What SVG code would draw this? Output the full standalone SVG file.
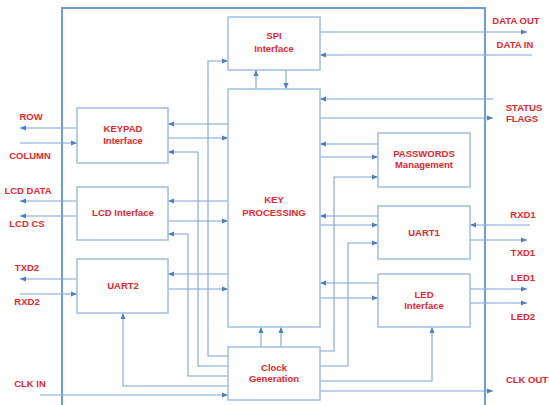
<svg xmlns="http://www.w3.org/2000/svg" width="549" height="405" viewBox="0 0 549 405">
<style>
.box{fill:#ffffff;stroke:#9fbfe5;stroke-width:1.5}
.frame{fill:none;stroke:#6a9fd8;stroke-width:2}
.ln{fill:none;stroke:#7ca4d6;stroke-width:1.1;marker-end:url(#ah)}
.t{font-family:"Liberation Sans",Arial,sans-serif;font-weight:bold;font-size:9.5px;fill:#e8262d;text-anchor:middle}
</style>
<defs>
<marker id="ah" markerUnits="userSpaceOnUse" markerWidth="7" markerHeight="6" refX="6" refY="3" orient="auto">
<path d="M0,0.5 L6,3 L0,5.5 Z" fill="#4f7fbf"/>
</marker>
</defs>
<rect width="549" height="405" fill="#ffffff"/>
<path class="frame" d="M62,410 V8 H485 V410"/>

<g id="connectors">
<path class="ln" d="M77,128 H20"/>
<path class="ln" d="M20,143 H77"/>
<path class="ln" d="M77,201 H20"/>
<path class="ln" d="M77,216 H20"/>
<path class="ln" d="M77,279 H20"/>
<path class="ln" d="M20,294 H77"/>
<path class="ln" d="M40,395 H228"/>
<path class="ln" d="M228,124 H168"/>
<path class="ln" d="M168,138 H228"/>
<path class="ln" d="M228,201 H168"/>
<path class="ln" d="M168,221 H228"/>
<path class="ln" d="M228,274 H168"/>
<path class="ln" d="M168,289 H228"/>
<path class="ln" d="M228,366 H198 V152 H168"/>
<path class="ln" d="M228,376 H188 V234 H168"/>
<path class="ln" d="M228,356 H208 V61 H228"/>
<path class="ln" d="M228,386 H123 V313"/>
<path class="ln" d="M261,347 V327"/>
<path class="ln" d="M281,347 V327"/>
<path class="ln" d="M256,89 V70"/>
<path class="ln" d="M286,70 V89"/>
<path class="ln" d="M320,32 H527"/>
<path class="ln" d="M532,55 H320"/>
<path class="ln" d="M493,99 H320"/>
<path class="ln" d="M320,118 H493"/>
<path class="ln" d="M378,144 H320"/>
<path class="ln" d="M320,157 H378"/>
<path class="ln" d="M320,351 H334 V177 H378"/>
<path class="ln" d="M378,216 H320"/>
<path class="ln" d="M320,225 H378"/>
<path class="ln" d="M320,366 H348 V243 H378"/>
<path class="ln" d="M378,283 H320"/>
<path class="ln" d="M320,298 H378"/>
<path class="ln" d="M320,381 H432 V327"/>
<path class="ln" d="M530,225 H470"/>
<path class="ln" d="M470,240 H527"/>
<path class="ln" d="M470,289 H527"/>
<path class="ln" d="M470,303 H527"/>
<path class="ln" d="M320,391 H493"/>
</g>

<g id="spi"><rect class="box" x="228" y="17" width="92" height="53"/>
<text class="t" x="274" y="39">SPI</text><text class="t" x="274" y="52">Interface</text></g>
<g id="keyproc"><rect class="box" x="228" y="89" width="92" height="238"/>
<text class="t" x="274" y="203">KEY</text><text class="t" x="274" y="216">PROCESSING</text></g>
<g id="clock"><rect class="box" x="228" y="347" width="92" height="53"/>
<text class="t" x="274" y="371">Clock</text><text class="t" x="274" y="382">Generation</text></g>
<g id="keypad"><rect class="box" x="77" y="108" width="91" height="55"/>
<text class="t" x="123" y="132">KEYPAD</text><text class="t" x="123" y="144">Interface</text></g>
<g id="lcd"><rect class="box" x="77" y="187" width="91" height="53"/>
<text class="t" x="123" y="216">LCD Interface</text></g>
<g id="uart2"><rect class="box" x="77" y="259" width="91" height="54"/>
<text class="t" x="123" y="289">UART2</text></g>
<g id="passwords"><rect class="box" x="378" y="133" width="92" height="54"/>
<text class="t" x="424" y="157">PASSWORDS</text><text class="t" x="424" y="168">Management</text></g>
<g id="uart1"><rect class="box" x="378" y="206" width="92" height="53"/>
<text class="t" x="424" y="236">UART1</text></g>
<g id="led"><rect class="box" x="378" y="274" width="92" height="53"/>
<text class="t" x="424" y="298">LED</text><text class="t" x="424" y="309">Interface</text></g>

<g id="labels">
<text class="t" x="31" y="120">ROW</text>
<text class="t" x="30" y="159">COLUMN</text>
<text class="t" x="28" y="194">LCD DATA</text>
<text class="t" x="27" y="227">LCD CS</text>
<text class="t" x="27" y="271">TXD2</text>
<text class="t" x="27" y="305">RXD2</text>
<text class="t" x="30" y="387">CLK IN</text>
<text class="t" x="516" y="24">DATA OUT</text>
<text class="t" x="515" y="48">DATA IN</text>
<text class="t" x="524" y="111">STATUS</text>
<text class="t" x="522" y="122">FLAGS</text>
<text class="t" x="523" y="218">RXD1</text>
<text class="t" x="523" y="256">TXD1</text>
<text class="t" x="523" y="281">LED1</text>
<text class="t" x="523" y="320">LED2</text>
<text class="t" x="527" y="383">CLK OUT</text>
</g>
</svg>
